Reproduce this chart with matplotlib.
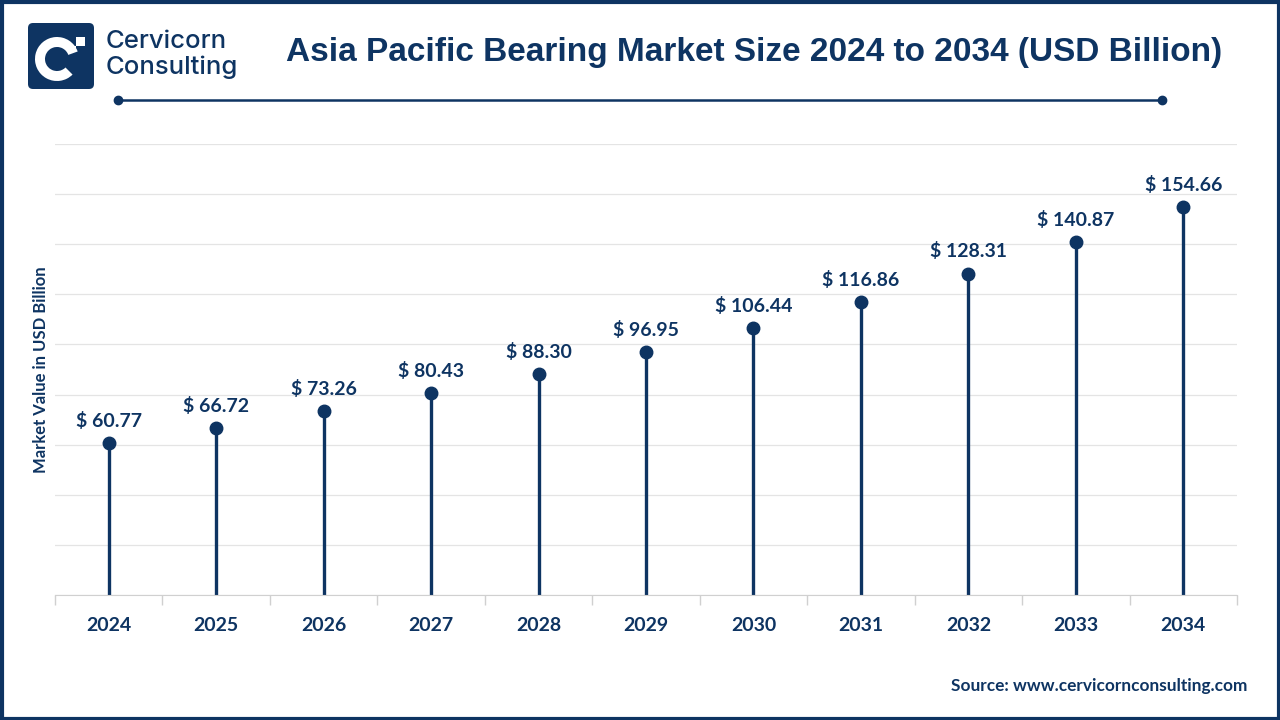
import numpy as np
import matplotlib.pyplot as plt
from matplotlib.patches import FancyBboxPatch, Wedge, Rectangle

years = ['2024', '2025', '2026', '2027', '2028', '2029', '2030', '2031', '2032', '2033', '2034']
values = [60.77, 66.72, 73.26, 80.43, 88.30, 96.95, 106.44, 116.86, 128.31, 140.87, 154.66]

navy = '#0e3462'
labelFont = ['Lato', 'DejaVu Sans']

fig = plt.figure(figsize=(12.8, 7.2), dpi=100)

# overlay in pixel units for frame, logo and title line
over = fig.add_axes([0, 0, 1, 1])
over.set_xlim(0, 1280)
over.set_ylim(720, 0)
over.axis('off')
over.add_patch(Rectangle((1.5, 1.5), 1277, 717, fill=False, edgecolor=navy, lw=3))
over.add_patch(FancyBboxPatch((28, 23), 66, 66, boxstyle='round,pad=0,rounding_size=5',
                              facecolor=navy, edgecolor='none'))
over.add_patch(Wedge((57, 59), 22, 45, 340, width=10, facecolor='white', edgecolor='none'))
over.add_patch(Rectangle((76, 37), 9, 9, facecolor='white', edgecolor='none'))
over.add_patch(Rectangle((70, 46), 6, 6, facecolor='white', edgecolor='none'))
over.text(106, 42, 'Cervicorn', fontsize=18.5, color=navy, family=['Inter', 'DejaVu Sans'],
          fontweight='medium', va='center', ha='left')
over.text(106, 67, 'Consulting', fontsize=18.5, color=navy, family=['Inter', 'DejaVu Sans'],
          fontweight='medium', va='center', ha='left')
over.text(754, 52, 'Asia Pacific Bearing Market Size 2024 to 2034 (USD Billion)', fontsize=24,
          fontweight='bold', color=navy, family=['Liberation Sans', 'DejaVu Sans'],
          ha='center', va='center')
over.plot([118, 1162], [100, 100], color=navy, lw=1.8)
over.plot([118, 1162], [100, 100], 'o', color=navy, ms=6)
over.text(1247, 686, 'Source: www.cervicornconsulting.com', fontsize=12.4, fontweight='bold',
          color=navy, family=labelFont, ha='right', va='center')

ax = fig.add_axes([55 / 1280, 125 / 720, 1182 / 1280, 451 / 720])
ax.set_zorder(2)
ax.patch.set_alpha(0)
x = np.arange(len(years))
ax.vlines(x, 0, values, color=navy, lw=2.4)
ax.plot(x, values, 'o', color=navy, ms=9)
for xi, v in zip(x, values):
    ax.annotate(f'$ {v:.2f}', (xi, v), xytext=(0, 16), textcoords='offset points',
                ha='center', va='center', fontsize=14, fontweight='bold', color=navy,
                family=labelFont)

ax.set_xlim(-0.5, len(years) - 0.5)
ax.set_ylim(0, 180)
ax.set_yticks(np.arange(0, 181, 20))
ax.yaxis.grid(True, color='#e4e4e4', lw=0.9)
ax.set_axisbelow(True)
ax.tick_params(axis='y', length=0, labelleft=False)
ax.set_xticks(x)
ax.set_xticklabels(years, fontsize=14, fontweight='bold', color=navy, family=labelFont)
ax.tick_params(axis='x', length=0, pad=16)
ax.set_xticks(np.arange(-0.5, len(years)), minor=True)
ax.tick_params(axis='x', which='minor', length=7, color='#d0d0d0', width=1)
for s in ['top', 'right', 'left']:
    ax.spines[s].set_visible(False)
ax.spines['bottom'].set_color('#d0d0d0')
ax.set_ylabel('Market Value in USD Billion', fontsize=12, fontweight='bold', color=navy,
              family=labelFont, labelpad=4)

fig.savefig('out.png', dpi=100)
